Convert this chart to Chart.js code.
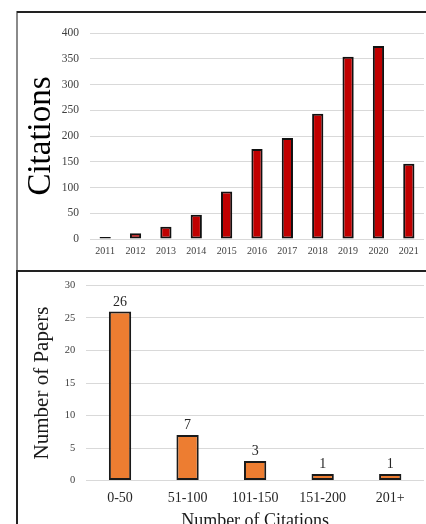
<!DOCTYPE html>
<html lang="en">
<head>
    <meta charset="UTF-8">
    <title>Citations per Year and Papers by Citation Count</title>
    <script src="https://cdn.jsdelivr.net/npm/chart.js"></script>
    <style>
        html, body { margin: 0; padding: 0; background: #fff; }
        body { width: 426px; height: 524px; overflow: hidden; position: relative; }
        .frame-left { position: absolute; left: 16px; top: 11px; width: 2px; height: 260px; background: #8a8a8a; }
        .frame-left2 { position: absolute; left: 16px; top: 270px; width: 2px; height: 260px; background: #222; }
        .frame-top { position: absolute; left: 17px; top: 11px; width: 409px; height: 1.5px; background: #222; }
        .frame-mid { position: absolute; left: 16px; top: 270px; width: 410px; height: 2px; background: #222; }
        .box { position: absolute; left: 18px; width: 408px; }
        #topBox { top: 13px; height: 256px; }
        #bottomBox { top: 272px; height: 270px; }
    </style>
</head>
<body>
    <div class="frame-left"></div>
    <div class="frame-left2"></div>
    <div class="frame-top"></div>
    <div class="frame-mid"></div>
    <div class="box" id="topBox"><canvas id="citationsChart"></canvas></div>
    <div class="box" id="bottomBox"><canvas id="papersChart"></canvas></div>
    <script>
        // Citations per year (top chart)
        const years = ['2011', '2012', '2013', '2014', '2015', '2016', '2017', '2018', '2019', '2020', '2021'];
        const citations = [4, 11, 24, 47, 92, 175, 196, 243, 354, 375, 146];

        // Papers grouped by citation count (bottom chart)
        const citationRanges = ['0-50', '51-100', '101-150', '151-200', '201+'];
        const paperCounts = [26, 7, 3, 1, 1];

        const serif = 'Liberation Serif, Times New Roman, serif';
        const gridColor = '#d9d9d9';

        // value labels above the bars
        const valueLabels = {
            id: 'valueLabels',
            afterDatasetsDraw(chart) {
                const ctx = chart.ctx;
                const meta = chart.getDatasetMeta(0);
                ctx.save();
                ctx.font = '14px ' + serif;
                ctx.fillStyle = '#262626';
                ctx.textAlign = 'center';
                ctx.textBaseline = 'alphabetic';
                meta.data.forEach((bar, i) => {
                    ctx.fillText(chart.data.datasets[0].data[i], bar.x, bar.y - 6);
                });
                ctx.restore();
            }
        };

        new Chart(document.getElementById('citationsChart'), {
            type: 'bar',
            data: {
                labels: years,
                datasets: [{
                    data: citations,
                    backgroundColor: '#c00000',
                    borderColor: '#111',
                    borderWidth: 2,
                    borderSkipped: false,
                    barPercentage: 0.37,
                    categoryPercentage: 1
                }]
            },
            options: {
                responsive: true,
                maintainAspectRatio: false,
                animation: false,
                layout: { padding: { top: 20, right: 2, bottom: 0, left: 0 } },
                plugins: { legend: { display: false }, tooltip: { enabled: false } },
                scales: {
                    x: {
                        grid: { display: false, drawTicks: false },
                        border: { display: false },
                        ticks: { color: '#404040', font: { family: serif, size: 10 }, padding: 6, maxRotation: 0 },
                        afterFit(scale) { scale.height = 30; }
                    },
                    y: {
                        min: 0,
                        max: 400,
                        ticks: { stepSize: 50, color: '#404040', font: { family: serif, size: 11.5 }, padding: 11 },
                        grid: { color: gridColor, lineWidth: 1, drawTicks: false },
                        border: { display: false },
                        title: { display: true, text: 'Citations', color: '#000', font: { family: serif, size: 33 }, padding: { top: 4, bottom: 0 } },
                        afterFit(scale) {
                            scale.width = 72;
                            scale.paddingTop = 6;
                            scale.paddingBottom = 6;
                        }
                    }
                }
            }
        });

        new Chart(document.getElementById('papersChart'), {
            type: 'bar',
            data: {
                labels: citationRanges,
                datasets: [{
                    data: paperCounts,
                    backgroundColor: '#ed7d31',
                    borderColor: '#1a1a1a',
                    borderWidth: 2,
                    borderSkipped: false,
                    barPercentage: 0.33,
                    categoryPercentage: 1
                }]
            },
            options: {
                responsive: true,
                maintainAspectRatio: false,
                animation: false,
                layout: { padding: { top: 13.5, right: 2, bottom: 0, left: 0 } },
                plugins: { legend: { display: false }, tooltip: { enabled: false } },
                scales: {
                    x: {
                        grid: { display: false, drawTicks: false },
                        border: { display: false },
                        ticks: { color: '#262626', font: { family: serif, size: 14 }, padding: 9.5, maxRotation: 0 },
                        title: { display: true, text: 'Number of Citations', color: '#1a1a1a', font: { family: serif, size: 18 }, padding: { top: 0, bottom: 10 } },
                        afterFit(scale) { scale.height = 61.5; }
                    },
                    y: {
                        min: 0,
                        max: 30,
                        ticks: { stepSize: 5, color: '#404040', font: { family: serif, size: 10.5 }, padding: 11 },
                        grid: { color: gridColor, lineWidth: 1, drawTicks: false },
                        border: { display: false },
                        title: { display: true, text: 'Number of Papers', color: '#1a1a1a', font: { family: serif, size: 21 }, padding: { top: 12, bottom: 0 } },
                        afterFit(scale) {
                            scale.width = 68.25;
                            // keep the label overflow from pushing the plot area down
                            scale.paddingTop = 6;
                            scale.paddingBottom = 6;
                        }
                    }
                }
            },
            plugins: [valueLabels]
        });
    </script>
</body>
</html>
